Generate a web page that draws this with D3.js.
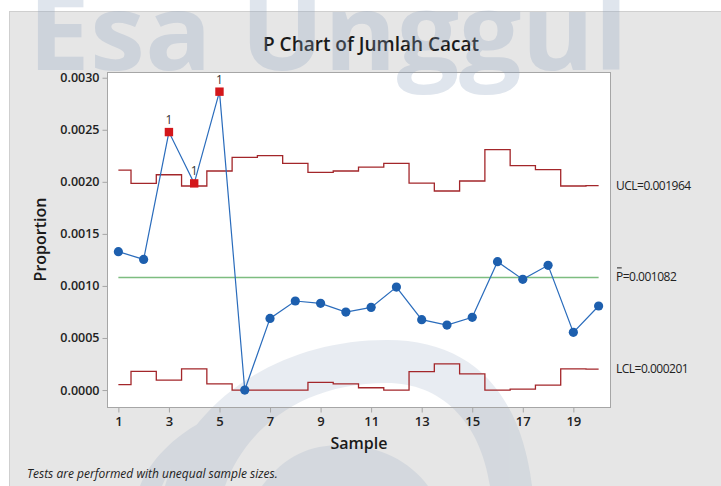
<!DOCTYPE html>
<html>
<head>
<meta charset="utf-8">
<script src="https://cdn.jsdelivr.net/npm/d3@7"></script>
<style>
  html, body { margin: 0; padding: 0; background: #fff; }
  svg { display: block; }
</style>
</head>
<body>
<div id="canvas"></div>
<script>
// sample numbers 1..20
const samples = d3.range(1, 21);

// proportion defective per sample
const proportion = [
  0.001329, 0.001255, 0.002478, 0.001985, 0.002866,
  0.0, 0.000688, 0.000855, 0.000833, 0.000749,
  0.000794, 0.000989, 0.000676, 0.000624, 0.000698,
  0.001233, 0.001063, 0.001198, 0.000554, 0.000807
];

// control limits (unequal sample sizes -> stepped)
const ucl = [
  0.002113, 0.001985, 0.002068, 0.001960, 0.002104,
  0.002235, 0.002251, 0.002177, 0.002091, 0.002104,
  0.002142, 0.002177, 0.001988, 0.001912, 0.002008,
  0.002309, 0.002155, 0.002117, 0.001960, 0.001964
];
const lcl = [
  0.000051, 0.000179, 0.000096, 0.000204, 0.000060,
  0.0, 0.0, 0.0, 0.000073, 0.000060,
  0.000022, 0.0, 0.000176, 0.000252, 0.000156,
  0.0, 0.000009, 0.000047, 0.000204, 0.000201
];
const pbar = 0.001082;

// samples failing test 1
const flagged = [3, 4, 5];

const yTicks = [0, 0.0005, 0.001, 0.0015, 0.002, 0.0025, 0.003];
const xTicks = [1, 3, 5, 7, 9, 11, 13, 15, 17, 19];

const title = "P Chart of Jumlah Cacat";
const xTitle = "Sample";
const yTitle = "Proportion";
const note = "Tests are performed with unequal sample sizes.";

const width = 721;
const height = 486;
const plot = { left: 107, top: 72, right: 610, bottom: 407 };

const xScale = d3.scaleLinear([0.55, 20.45], [plot.left, plot.right]);
const yScale = d3.scaleLinear([-0.000163, 0.003055], [plot.bottom, plot.top]);

const svg = d3
  .select("#canvas")
  .append("svg")
  .attr("width", width)
  .attr("height", height)
  .attr("viewBox", [0, 0, width, height]);

// outer gray panel
svg.append("rect")
  .attr("x", 9.5).attr("y", 11.5)
  .attr("width", width).attr("height", height)
  .attr("fill", "#e6e6e6")
  .attr("stroke", "#cfcfcf");

// plot area
svg.append("rect")
  .attr("x", plot.left).attr("y", plot.top)
  .attr("width", plot.right - plot.left)
  .attr("height", plot.bottom - plot.top)
  .attr("fill", "#ffffff");

// logo swoosh in background
const swoosh = svg.append("g").attr("fill", "#8ea3c0").attr("opacity", 0.2);
swoosh.append("path")
  .attr("d", "M165,486 C190,400 280,340 387,340 C470,340 520,390 532,486 L490,486 C480,420 440,383 387,383 C300,383 245,430 225,486 Z");
swoosh.append("path")
  .attr("d", "M262,486 C285,455 310,445 342,445 C380,445 410,462 428,486 Z");
swoosh.append("path")
  .attr("d", "M140,486 C150,460 175,436 200,423 L206,434 C186,448 170,466 162,486 Z");

// axes frame
svg.append("rect")
  .attr("x", plot.left + 0.5).attr("y", plot.top + 0.5)
  .attr("width", plot.right - plot.left)
  .attr("height", plot.bottom - plot.top)
  .attr("fill", "none")
  .attr("stroke", "#a6a6a6");

// y axis
const yAxis = d3.axisLeft(yScale)
  .tickValues(yTicks)
  .tickFormat(d3.format(".4f"))
  .tickSize(5)
  .tickPadding(3);

svg.append("g")
  .attr("transform", `translate(${plot.left + 0.5},0)`)
  .call(yAxis)
  .call((g) => g.select(".domain").remove())
  .call((g) => g.selectAll(".tick line").attr("stroke", "#a6a6a6"))
  .call((g) => g.selectAll(".tick text")
    .attr("fill", "#222")
    .attr("font-family", "'Open Sans', sans-serif")
    .attr("font-weight", 600)
    .attr("font-size", 12.5));

// x axis
const xAxis = d3.axisBottom(xScale)
  .tickValues(xTicks)
  .tickFormat(d3.format("d"))
  .tickSize(5)
  .tickPadding(4);

svg.append("g")
  .attr("transform", `translate(0,${plot.bottom + 0.5})`)
  .call(xAxis)
  .call((g) => g.select(".domain").remove())
  .call((g) => g.selectAll(".tick line").attr("stroke", "#a6a6a6"))
  .call((g) => g.selectAll(".tick text")
    .attr("fill", "#222")
    .attr("font-family", "'Open Sans', sans-serif")
    .attr("font-weight", 600)
    .attr("font-size", 13));

// control limits
const step = d3.line()
  .x((d) => xScale(d[0]))
  .y((d) => yScale(d[1]))
  .curve(d3.curveStep);

for (const lim of [ucl, lcl]) {
  svg.append("path")
    .attr("fill", "none")
    .attr("stroke", "#a3262a")
    .attr("stroke-width", 1.3)
    .attr("d", step(samples.map((s, i) => [s, lim[i]])));
}

// center line
svg.append("line")
  .attr("x1", xScale(1)).attr("x2", xScale(20))
  .attr("y1", yScale(pbar)).attr("y2", yScale(pbar))
  .attr("stroke", "#7dbd80")
  .attr("stroke-width", 1.5);

// data line
const line = d3.line()
  .x((d, i) => xScale(samples[i]))
  .y((d) => yScale(d));

svg.append("path")
  .attr("fill", "none")
  .attr("stroke", "#2a6cbc")
  .attr("stroke-width", 1.2)
  .attr("d", line(proportion));

const pts = samples.map((s, i) => ({ s, p: proportion[i] }));

svg.append("g")
  .selectAll("circle")
  .data(pts.filter((d) => !flagged.includes(d.s)))
  .join("circle")
  .attr("cx", (d) => xScale(d.s))
  .attr("cy", (d) => yScale(d.p))
  .attr("r", 4.6)
  .attr("fill", "#1d5fae");

svg.append("g")
  .selectAll("rect")
  .data(pts.filter((d) => flagged.includes(d.s)))
  .join("rect")
  .attr("x", (d) => xScale(d.s) - 4.2)
  .attr("y", (d) => yScale(d.p) - 4.2)
  .attr("width", 8.4)
  .attr("height", 8.4)
  .attr("fill", "#d3171b");

svg.append("g")
  .selectAll("text")
  .data(pts.filter((d) => flagged.includes(d.s)))
  .join("text")
  .attr("x", (d) => xScale(d.s))
  .attr("y", (d) => yScale(d.p) - 8)
  .attr("text-anchor", "middle")
  .attr("font-family", "'Open Sans', sans-serif")
  .attr("font-size", 12)
  .attr("fill", "#333")
  .text("1");

// right-hand labels
const labelFont = (t) => t
  .attr("font-family", "'Open Sans', sans-serif")
  .attr("font-size", 12)
  .attr("letter-spacing", -0.5)
  .attr("fill", "#222");

svg.append("text")
  .attr("x", 616).attr("y", yScale(ucl[ucl.length - 1]) + 4)
  .call(labelFont)
  .text("UCL=" + d3.format(".6f")(ucl[ucl.length - 1]));

const pl = svg.append("text")
  .attr("x", 616).attr("y", yScale(pbar) + 4)
  .call(labelFont)
  .text("P=" + d3.format(".6f")(pbar));
// bar over the P
const pw = pl.node().getSubStringLength(0, 1);
svg.append("line")
  .attr("x1", 617).attr("x2", 616 + pw - 1)
  .attr("y1", yScale(pbar) - 9.5).attr("y2", yScale(pbar) - 9.5)
  .attr("stroke", "#222")
  .attr("stroke-width", 1);

svg.append("text")
  .attr("x", 616).attr("y", yScale(lcl[lcl.length - 1]) + 4)
  .call(labelFont)
  .text("LCL=" + d3.format(".6f")(lcl[lcl.length - 1]));

// titles
svg.append("text")
  .attr("x", 371).attr("y", 50.5)
  .attr("text-anchor", "middle")
  .attr("font-family", "'Open Sans', sans-serif")
  .attr("font-weight", 600)
  .attr("font-size", 19)
  .attr("fill", "#1a1a1a")
  .text(title);

svg.append("text")
  .attr("x", 359).attr("y", 449)
  .attr("text-anchor", "middle")
  .attr("font-family", "'Open Sans', sans-serif")
  .attr("font-weight", 600)
  .attr("font-size", 16)
  .attr("fill", "#1a1a1a")
  .text(xTitle);

svg.append("text")
  .attr("transform", `translate(46,${(plot.top + plot.bottom) / 2}) rotate(-90)`)
  .attr("text-anchor", "middle")
  .attr("font-family", "'Open Sans', sans-serif")
  .attr("font-weight", 600)
  .attr("font-size", 16)
  .attr("fill", "#1a1a1a")
  .text(yTitle);

svg.append("text")
  .attr("x", 27).attr("y", 478)
  .attr("font-family", "'Open Sans', sans-serif")
  .attr("font-style", "italic")
  .attr("font-size", 12)
  .attr("fill", "#222")
  .text(note);

// watermark
svg.append("text")
  .attr("x", 28).attr("y", 70)
  .attr("font-family", "'Open Sans', sans-serif")
  .attr("font-weight", 700)
  .attr("font-size", 106)
  .attr("textLength", 600)
  .attr("lengthAdjust", "spacingAndGlyphs")
  .attr("fill", "#8ea3c0")
  .attr("opacity", 0.28)
  .text("Esa Unggul");
</script>
</body>
</html>
